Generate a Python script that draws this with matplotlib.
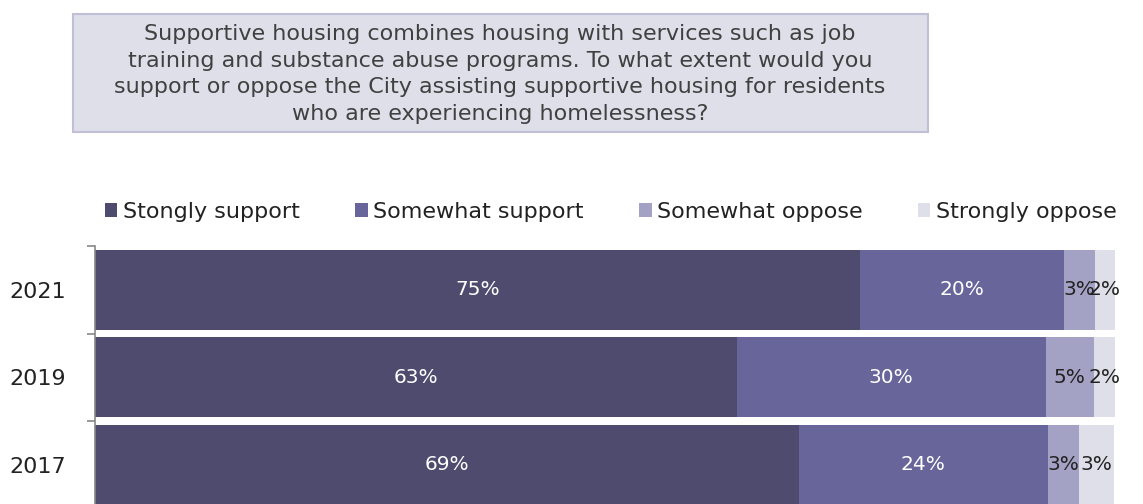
import matplotlib
matplotlib.use("Agg")
import matplotlib.pyplot as plt
from matplotlib.patches import Rectangle

plt.rcParams['font.family'] = ['DejaVu Sans']

years = ["2021", "2019", "2017"]
series_names = ["Stongly support", "Somewhat support", "Somewhat oppose", "Strongly oppose"]
strongly_support = [75.0, 62.9, 69.0]
somewhat_support = [20.0, 30.3, 24.4]
somewhat_oppose = [3.0, 4.7, 3.1]
strongly_oppose = [2.0, 2.1, 3.4]
labels = [["75%", "63%", "69%"], ["20%", "30%", "24%"],
          ["3%", "5%", "3%"], ["2%", "2%", "3%"]]

colors = ["#4e4b6f", "#67659a", "#a3a2c5", "#dfdfea"]
text_colors = ["white", "white", "#222222", "#222222"]

question = ("Supportive housing combines housing with services such as job\n"
            "training and substance abuse programs. To what extent would you\n"
            "support or oppose the City assisting supportive housing for residents\n"
            "who are experiencing homelessness?")

fig = plt.figure(figsize=(11.43, 5.04), dpi=100)

# question box
fig.patches.append(Rectangle((73 / 1143, 1 - 132 / 504), 855 / 1143, 118 / 504,
                             transform=fig.transFigure, facecolor="#dfdfea",
                             edgecolor="#c0bfd6", linewidth=1.5))
fig.text(500 / 1143, 1 - 74 / 504, question, ha="center", va="center",
         fontsize=16, color="#404040", linespacing=1.42)

ax = fig.add_axes([95 / 1143, -0.009, (1115 - 95) / 1143, 0.5209])

values = [strongly_support, somewhat_support, somewhat_oppose, strongly_oppose]
ypos = list(range(len(years)))
left = [0.0] * len(years)
for i, vals in enumerate(values):
    bars = ax.barh(ypos, vals, left=left, height=0.91, color=colors[i],
                   label=series_names[i], edgecolor="none")
    for j, b in enumerate(bars):
        ax.text(left[j] + vals[j] / 2, ypos[j], labels[i][j], ha="center",
                va="center", fontsize=14.5, color=text_colors[i])
    left = [l + v for l, v in zip(left, vals)]

ax.set_xlim(0, 100)
ax.set_ylim(len(years) - 0.5, -0.5)
ax.set_yticks([-0.5, 0.5, 1.5, 2.5])
ax.set_yticklabels([])
ax.set_yticks(ypos, minor=True)
ax.set_yticklabels(years, minor=True, fontsize=16, color="#222222")
ax.tick_params(axis="y", which="major", length=6, color="#888888", width=1.2)
ax.tick_params(axis="y", which="minor", length=0, pad=21)
ax.set_xticks([])
for s in ["top", "right", "bottom"]:
    ax.spines[s].set_visible(False)
ax.spines["left"].set_color("#888888")
ax.spines["left"].set_linewidth(1.2)

leg = fig.legend(loc="center", bbox_to_anchor=(611 / 1143, 1 - 212 / 504), ncol=4,
                 frameon=False, fontsize=16, handlelength=0.55, handleheight=0.55,
                 handletextpad=0.25, columnspacing=2.5)
for t in leg.get_texts():
    t.set_color("#222222")

fig.savefig("out.png", dpi=100)
